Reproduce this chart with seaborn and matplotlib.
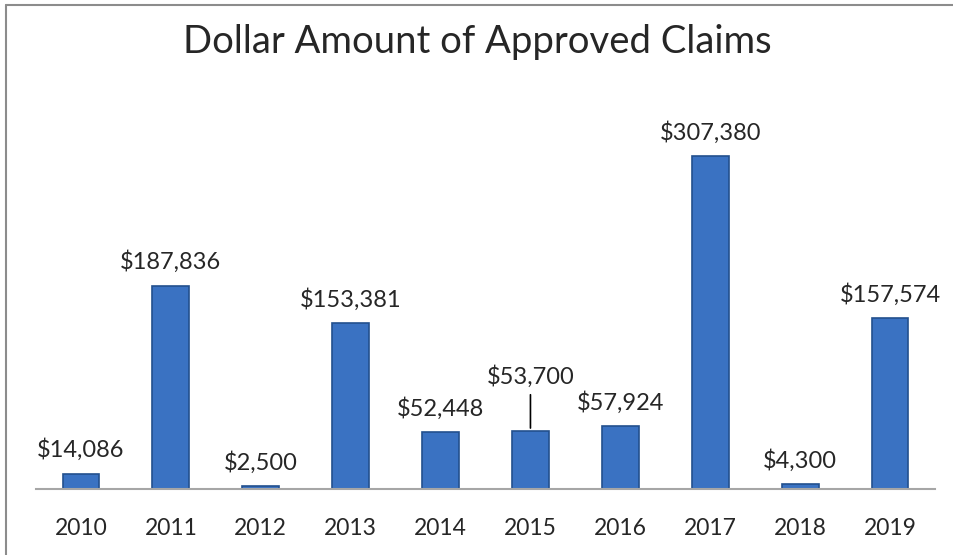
import matplotlib
matplotlib.use("Agg")
import matplotlib.pyplot as plt
import seaborn as sns
import pandas as pd
from matplotlib.lines import Line2D

years = ["2010", "2011", "2012", "2013", "2014", "2015", "2016", "2017", "2018", "2019"]
amounts = [14086, 187836, 2500, 153381, 52448, 53700, 57924, 307380, 4300, 157574]

sns.set_style("white")
plt.rcParams["font.family"] = ["Lato", "DejaVu Sans"]

df = pd.DataFrame({"year": years, "amount": amounts})

fig = plt.figure(figsize=(9.54, 5.55), dpi=100)
ax = fig.add_axes([36 / 954, 66 / 555, 899 / 954, 379 / 555])

sns.barplot(data=df, x="year", y="amount", ax=ax, width=0.41,
            color="#3A72C2", edgecolor="#22508E", linewidth=1.2, saturation=1)

ax.set_ylim(0, 350000)
ax.set_xlim(-0.5, len(years) - 0.5)
ax.set_xlabel("")
ax.set_ylabel("")
ax.set_yticks([])
sns.despine(ax=ax, left=True, top=True, right=True)
ax.spines["bottom"].set_color("#A6A6A6")
ax.spines["bottom"].set_linewidth(1.5)
ax.tick_params(axis="x", length=0, pad=21, labelsize=16.5)

# data labels; 2015 is pushed up with a leader line
for i, (yr, val) in enumerate(zip(years, amounts)):
    lift = 31 if yr == "2015" else 9
    ax.annotate(f"${val:,}", (i, val), xytext=(0, lift), textcoords="offset points",
                ha="center", va="bottom", fontsize=17)
    if yr == "2015":
        ax.annotate("", (i, val), xytext=(0, 28), textcoords="offset points",
                    arrowprops=dict(arrowstyle="-", color="black", lw=1.2))

fig.text(0.5, 1 - 42 / 555, "Dollar Amount of Approved Claims",
         ha="center", va="center", fontsize=27.5)

# chart frame (left and top edges)
fig.add_artist(Line2D([6 / 954, 6 / 954], [0, 1 - 5 / 555], transform=fig.transFigure,
                      color="#8C8C8C", lw=1.5))
fig.add_artist(Line2D([6 / 954, 953 / 954], [1 - 5 / 555, 1 - 5 / 555],
                      transform=fig.transFigure, color="#8C8C8C", lw=1.5))

fig.savefig("out.png", dpi=100)
